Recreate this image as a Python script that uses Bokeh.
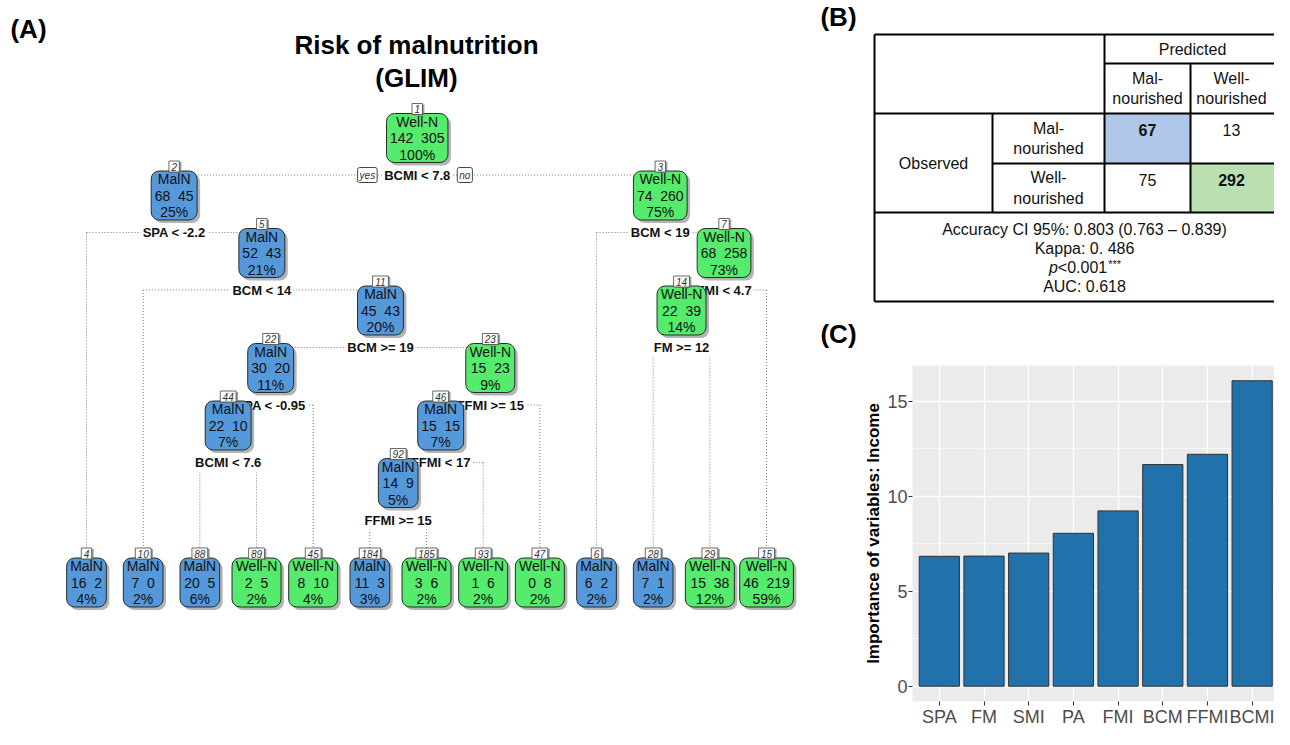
from bokeh.plotting import figure
from bokeh.layouts import row, column
from bokeh.models import Range1d, FixedTicker
from bokeh.core.properties import value
from bokeh.embed import file_html
from bokeh.resources import INLINE

# ---------------- data: (A) classification tree ----------------
node_ids    = [1, 2, 3, 4, 5, 6, 7, 10, 11, 14, 15, 22, 23, 28, 29, 44, 45, 46, 47, 88, 89, 92, 93, 184, 185]
node_class  = ["Well-N", "MalN", "Well-N", "MalN", "MalN", "MalN", "Well-N", "MalN", "MalN", "Well-N",
               "Well-N", "MalN", "Well-N", "MalN", "Well-N", "MalN", "Well-N", "MalN", "Well-N", "MalN",
               "Well-N", "MalN", "Well-N", "MalN", "Well-N"]
node_n_mal  = [142, 68, 74, 16, 52, 6, 68, 7, 45, 22, 46, 30, 15, 7, 15, 22, 8, 15, 0, 20, 2, 14, 1, 11, 3]
node_n_well = [305, 45, 260, 2, 43, 2, 258, 0, 43, 39, 219, 20, 23, 1, 38, 10, 10, 15, 8, 5, 5, 9, 6, 3, 6]
node_pct    = [100, 25, 75, 4, 21, 2, 73, 2, 20, 14, 59, 11, 9, 2, 12, 7, 4, 7, 2, 6, 2, 5, 2, 3, 2]
split_nodes  = [1, 2, 3, 5, 7, 11, 14, 22, 23, 44, 46, 92]
split_labels = ["BCMI < 7.8", "SPA < -2.2", "BCM < 19", "BCM < 14", "FMI < 4.7", "BCM >= 19",
                "FM >= 12", "SPA < -0.95", "FFMI >= 15", "BCMI < 7.6", "FFMI < 17", "FFMI >= 15"]
tree_title = ["Risk of malnutrition", "(GLIM)"]

# ---------------- data: (B) confusion matrix ----------------
pred_labels = ["Mal-\nnourished", "Well-\nnourished"]
obs_labels  = ["Mal-\nnourished", "Well-\nnourished"]
conf_matrix = [[67, 13], [75, 292]]
stats_lines = ["Accuracy CI 95%: 0.803 (0.763 \u2013 0.839)", "Kappa: 0. 486", "p<0.001***", "AUC: 0.618"]

# ---------------- data: (C) variable importance ----------------
var_names  = ["SPA", "FM", "SMI", "PA", "FMI", "BCM", "FFMI", "BCMI"]
importance = [6.84, 6.85, 7.01, 8.05, 9.23, 11.67, 12.21, 16.08]

# ---------------- styles / layout ----------------
FONT = value("Liberation Sans")
BLUE, GREEN = "#5599DB", "#55EB6C"
W_TOT, H_TOT = 1274, 729
TREE_W = 800       # width of panel (A)
TAB_H = 358        # height of panel (B) strip
REG = {c: .556 for c in "0123456789"}
REG.update({' ': .278, '\u00a0': .278, '%': .889, 'M': .833, 'a': .556, 'l': .222, 'N': .722,
            'W': .944, 'e': .556, '-': .333, '<': .584, '.': .278})
BOLD = {c: .556 for c in "0123456789"}
BOLD.update({' ': .278, '<': .584, '>': .584, '=': .584, '.': .278, '-': .333, 'B': .722, 'C': .722,
             'M': .833, 'I': .278, 'S': .667, 'P': .667, 'A': .722, 'F': .611})


def tw(s, size, bold=False):
    t = BOLD if bold else REG
    return sum(t.get(c, .556) for c in s) * size


def no_align(f):
    try:
        f.frame_align = False
    except AttributeError:
        pass


# tree layout (rpart.plot style: fallen leaves, parent centred over its children)
ids = set(node_ids)
LEAF_X0, LEAF_DX, Y0, DY, LEAF_Y, HH = 86.0, 56.67, 137.5, 57.5, 582.0, 24.5


def is_leaf(n):
    return 2 * n not in ids


def inorder(n):
    if n not in ids:
        return []
    if is_leaf(n):
        return [n]
    return inorder(2 * n) + inorder(2 * n + 1)


pos = {}
for i, n in enumerate(inorder(1)):
    pos[n] = (LEAF_X0 + i * LEAF_DX, LEAF_Y)


def place(n):
    if n in pos:
        return pos[n][0]
    x = (place(2 * n) + place(2 * n + 1)) / 2
    pos[n] = (x, Y0 + DY * (n.bit_length() - 1))
    return x


place(1)
split_y = {n: pos[n][1] + 37 for n in split_nodes}


def bare(width, height, xr, yr):
    f = figure(width=width, height=height, x_range=Range1d(*xr), y_range=Range1d(*yr),
               toolbar_location=None, output_backend="svg", x_axis_type=None, y_axis_type=None,
               outline_line_color=None, min_border=0)
    no_align(f)
    return f


# ---------- (A) tree ----------
p1 = bare(TREE_W, H_TOT, (0, TREE_W), (H_TOT, 0))
x0s, y0s, x1s, y1s = [], [], [], []
for n in split_nodes:
    ys = split_y[n]
    x0s.append(pos[2 * n][0]); y0s.append(ys); x1s.append(pos[2 * n + 1][0]); y1s.append(ys)
    for c in (2 * n, 2 * n + 1):
        x0s.append(pos[c][0]); y0s.append(ys); x1s.append(pos[c][0]); y1s.append(pos[c][1])
p1.segment(x0=x0s, y0=y0s, x1=x1s, y1=y1s, line_color="#7a7a7a", line_width=1, line_dash="1 2")
p1.text(x=[pos[n][0] for n in split_nodes], y=[split_y[n] for n in split_nodes], text=split_labels,
        text_font=FONT, text_font_size="13px", text_font_style="bold", text_align="center",
        text_baseline="middle", background_fill_color="white", padding=2, text_color="#111111")
rw = tw(split_labels[0], 13, True) / 2
for txt, dx, al in (("yes", -rw - 7, "right"), ("no", rw + 7, "left")):
    p1.text(x=[pos[1][0] + dx], y=[split_y[1]], text=[txt], text_font=FONT, text_font_size="10px",
            text_font_style="italic", text_align=al, text_baseline="middle", text_color="#333333",
            background_fill_color="white", border_line_color="#444444", padding=2, border_radius=2)
xs = [pos[n][0] for n in node_ids]
ys = [pos[n][1] for n in node_ids]
l2 = [f"{a}\u00a0\u00a0{b}" for a, b in zip(node_n_mal, node_n_well)]
l3 = [f"{v}%" for v in node_pct]
hw = [(max(tw(a, 14), tw(b, 14), tw(c, 14)) + 7) / 2 for a, b, c in zip(node_class, l2, l3)]
cols = [GREEN if c == "Well-N" else BLUE for c in node_class]
p1.quad(left=[x - w + 3 for x, w in zip(xs, hw)], right=[x + w + 3 for x, w in zip(xs, hw)],
        top=[y - HH + 3 for y in ys], bottom=[y + HH + 3 for y in ys],
        fill_color="#6a6a6a", fill_alpha=0.5, line_color=None, border_radius=8)
p1.quad(left=[x - w for x, w in zip(xs, hw)], right=[x + w for x, w in zip(xs, hw)],
        top=[y - HH for y in ys], bottom=[y + HH for y in ys],
        fill_color=cols, line_color="#2b2b2b", line_width=1, border_radius=8)
for dy, lines in ((-16.5, node_class), (0, l2), (16.5, l3)):
    p1.text(x=xs, y=[y + dy for y in ys], text=lines, text_font=FONT, text_font_size="14px",
            text_align="center", text_baseline="middle", text_color="#111111")
nums = [str(n) for n in node_ids]
nw = [5.4 * len(s) + 5 for s in nums]
p1.quad(left=[x - w / 2 + 2 for x, w in zip(xs, nw)], right=[x + w / 2 + 2 for x, w in zip(xs, nw)],
        top=[y - HH - 10 + 1 for y in ys], bottom=[y - HH + 2 for y in ys],
        fill_color="#777777", fill_alpha=0.7, line_color=None)
p1.quad(left=[x - w / 2 for x, w in zip(xs, nw)], right=[x + w / 2 for x, w in zip(xs, nw)],
        top=[y - HH - 10 for y in ys], bottom=[y - HH + 1 for y in ys],
        fill_color="white", line_color="#444444", line_width=0.8)
p1.text(x=xs, y=[y - HH - 4.5 for y in ys], text=nums, text_font=FONT, text_font_size="10px",
        text_font_style="italic", text_align="center", text_baseline="middle", text_color="#333333")
p1.text(x=[416, 416], y=[44, 77], text=tree_title, text_font=FONT, text_font_size="26px",
        text_font_style="bold", text_align="center", text_baseline="middle", text_color="black")
p1.text(x=[28], y=[28], text=["(A)"], text_font=FONT, text_font_size="26px", text_font_style="bold",
        text_align="center", text_baseline="middle", text_color="black")

# ---------- (B) table ----------
p2 = bare(W_TOT - TREE_W, TAB_H, (TREE_W, W_TOT), (TAB_H, 0))
p2.text(x=[838, 838], y=[16, 333], text=["(B)", "(C)"], text_font=FONT,
        text_font_size="26px", text_font_style="bold", text_align="center", text_baseline="middle",
        text_color="black")
col_e = [874, 992, 1104, 1190, 1292]
row_e = [34, 63, 113, 163, 212, 301]
vis_r = W_TOT - 2          # visible right edge of the (clipped) table
cen = [(col_e[k] + min(col_e[k + 1], vis_r)) / 2 for k in range(4)]
hl = ["#AFC7E8", "#BADFB0"]
p2.quad(left=[col_e[2 + i] for i in range(2)], right=[col_e[3 + i] for i in range(2)],
        top=[row_e[2 + i] for i in range(2)], bottom=[row_e[3 + i] for i in range(2)],
        fill_color=hl, line_color=None)
seg = [((0, 0), (4, 0)), ((0, 5), (4, 5)), ((0, 0), (0, 5)), ((2, 0), (2, 4)), ((3, 1), (3, 4)),
       ((1, 2), (1, 4)), ((2, 1), (4, 1)), ((0, 2), (4, 2)), ((1, 3), (4, 3)), ((0, 4), (4, 4))]
p2.segment(x0=[col_e[a[0]] for a, b in seg], y0=[row_e[a[1]] for a, b in seg],
           x1=[col_e[b[0]] for a, b in seg], y1=[row_e[b[1]] for a, b in seg],
           line_color="black", line_width=2)
tk = dict(text_font=FONT, text_font_size="16px", text_align="center", text_baseline="middle",
          text_color="#111111")
p2.text(x=[(col_e[2] + vis_r) / 2 + 4], y=[(row_e[0] + row_e[1]) / 2], text=["Predicted"], **tk)
p2.text(x=[cen[2], cen[3]], y=[(row_e[1] + row_e[2]) / 2] * 2, text=pred_labels, **tk)
p2.text(x=[cen[1]] * 2, y=[(row_e[2 + i] + row_e[3 + i]) / 2 for i in range(2)], text=obs_labels, **tk)
p2.text(x=[cen[0]], y=[(row_e[2] + row_e[4]) / 2], text=["Observed"], **tk)
for i in range(2):
    for j in range(2):
        p2.text(x=[cen[2 + j]], y=[row_e[2 + i] + 16], text=[str(conf_matrix[i][j])],
                text_font_style="bold" if i == j else "normal", **tk)
cx = 1084
p2.text(x=[cx, cx, cx], y=[229, 248, 286], text=[stats_lines[0], stats_lines[1], stats_lines[3]], **tk)
ptxt = stats_lines[2]
pw = tw(ptxt[1:7], 16) + 22
px0 = cx - pw / 2 + 9
p2.text(x=[px0], y=[267], text=[ptxt[0]], text_font=FONT, text_font_size="16px", text_font_style="italic",
        text_align="right", text_baseline="middle", text_color="#111111")
p2.text(x=[px0], y=[267], text=[ptxt[1:7]], text_font=FONT, text_font_size="16px",
        text_align="left", text_baseline="middle", text_color="#111111")
p2.text(x=[px0 + tw(ptxt[1:7], 16) + 1], y=[263], text=[ptxt[7:]], text_font=FONT, text_font_size="11px",
        text_align="left", text_baseline="middle", text_color="#111111")

# ---------- (C) bar chart ----------
pad = max(importance) * 0.05
p3 = figure(width=W_TOT - TREE_W, height=H_TOT - TAB_H, x_range=Range1d(0.4, 8.5),
            y_range=Range1d(-pad, max(importance) + pad), toolbar_location=None, output_backend="svg",
            min_border_left=912 - TREE_W, min_border_right=0, min_border_top=365 - TAB_H, min_border_bottom=0)
no_align(p3)
p3.background_fill_color = "#EBEBEB"
p3.border_fill_color = "white"
p3.outline_line_color = None
p3.vbar(x=list(range(1, len(var_names) + 1)), top=importance, bottom=0, width=0.9,
        fill_color="#2171AB", line_color="#333333", line_width=1)
p3.xaxis.ticker = FixedTicker(ticks=list(range(1, len(var_names) + 1)))
p3.xaxis.major_label_overrides = {i + 1: v for i, v in enumerate(var_names)}
p3.yaxis.ticker = FixedTicker(ticks=[0, 5, 10, 15], minor_ticks=[2.5, 7.5, 12.5])
for ax in (p3.xaxis, p3.yaxis):
    ax.axis_line_color = None
    ax.major_tick_line_color = "#333333"
    ax.major_tick_out = 4
    ax.major_tick_in = 0
    ax.minor_tick_line_color = None
    ax.major_label_text_font = "Liberation Sans"
    ax.major_label_text_font_size = "18px"
    ax.major_label_text_color = "#4D4D4D"
    ax.major_label_standoff = 1
p3.yaxis.axis_label = "Importance of variables: Income"
p3.yaxis.axis_label_text_font = "Liberation Sans"
p3.yaxis.axis_label_text_font_size = "17px"
p3.yaxis.axis_label_text_font_style = "bold"
p3.yaxis.axis_label_text_color = "black"
p3.yaxis.axis_label_standoff = 1
p3.xgrid.grid_line_color = "white"
p3.xgrid.grid_line_width = 1.3
p3.ygrid.grid_line_color = "white"
p3.ygrid.grid_line_width = 1.3
p3.ygrid.minor_grid_line_color = "white"
p3.ygrid.minor_grid_line_width = 0.6

layout = row(p1, column(p2, p3))
open("out.html", "w").write(file_html(layout, INLINE))
